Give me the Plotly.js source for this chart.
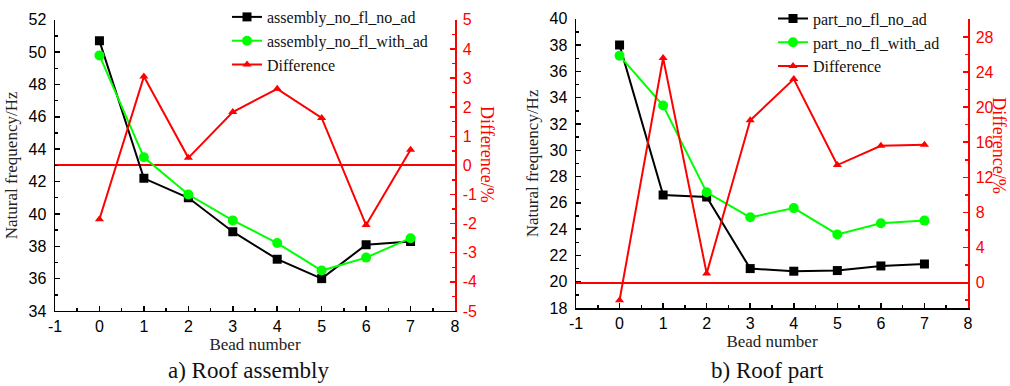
<!DOCTYPE html>
<html>
<head>
<meta charset="utf-8">
<script src="https://cdn.plot.ly/plotly-3.0.1.min.js"></script>
<style>
html,body{margin:0;padding:0;background:#fff;}
#chart{width:1010px;height:386px;}
</style>
</head>
<body>
<div id="chart"></div>
<script>
// ---- data ----
const beadNumber = [0, 1, 2, 3, 4, 5, 6, 7];

// a) Roof assembly
const assemblyNoFlNoAd   = [50.7, 42.2, 41.0, 38.9, 37.2, 36.0, 38.1, 38.3];
const assemblyNoFlWithAd = [49.8, 43.5, 41.2, 39.6, 38.2, 36.5, 37.3, 38.5];
const assemblyDifference = [-1.85, 3.05, 0.26, 1.83, 2.63, 1.63, -2.05, 0.54];

// b) Roof part
const partNoFlNoAd   = [38.0, 26.6, 26.45, 21.0, 20.8, 20.85, 21.2, 21.35];
const partNoFlWithAd = [37.2, 33.4, 26.8, 24.9, 25.6, 23.6, 24.45, 24.65];
const partDifference = [-2.0, 25.6, 1.05, 18.5, 23.2, 13.4, 15.6, 15.7];

// tick labels (hyphen minus as in the reference)
const xTickVals = [-1, 0, 1, 2, 3, 4, 5, 6, 7, 8];
const xTickText = ['-1', '0', '1', '2', '3', '4', '5', '6', '7', '8'];
const diffATickVals = [-5, -4, -3, -2, -1, 0, 1, 2, 3, 4, 5];
const diffATickText = ['-5', '-4', '-3', '-2', '-1', '0', '1', '2', '3', '4', '5'];

const seriesNames = {
  aBlack: 'assembly_no_fl_no_ad', aGreen: 'assembly_no_fl_with_ad',
  bBlack: 'part_no_fl_no_ad', bGreen: 'part_no_fl_with_ad', diff: 'Difference'
};

const SERIF = 'Liberation Serif, Times New Roman, serif';
const SANS = 'Liberation Sans, Arial, sans-serif';
const BLACK = '#000000', GREEN = '#00ff00', RED = '#ff0000';

function tr(x, y, name, color, symbol, size, xa, ya, legend) {
  return {
    x: x, y: y, name: name, type: 'scatter', mode: 'lines+markers',
    line: {color: color, width: 2},
    marker: {color: color, symbol: symbol, size: size},
    xaxis: xa, yaxis: ya, legend: legend
  };
}

const data = [
  tr(beadNumber, assemblyNoFlNoAd, seriesNames.aBlack, BLACK, 'square', 9, 'x', 'y', 'legend'),
  tr(beadNumber, assemblyNoFlWithAd, seriesNames.aGreen, GREEN, 'circle', 10, 'x', 'y', 'legend'),
  tr(beadNumber, assemblyDifference, seriesNames.diff, RED, 'triangle-up', 8, 'x', 'y2', 'legend'),
  tr(beadNumber, partNoFlNoAd, seriesNames.bBlack, BLACK, 'square', 9, 'x2', 'y3', 'legend2'),
  tr(beadNumber, partNoFlWithAd, seriesNames.bGreen, GREEN, 'circle', 10, 'x2', 'y3', 'legend2'),
  tr(beadNumber, partDifference, seriesNames.diff, RED, 'triangle-up', 8, 'x2', 'y4', 'legend2')
];

function xAxis(domain, anchor) {
  return {
    domain: domain, anchor: anchor, range: [-1, 8],
    tickmode: 'array', tickvals: xTickVals, ticktext: xTickText,
    showline: true, linecolor: BLACK, linewidth: 1.5, mirror: false,
    ticks: 'inside', ticklen: 5, tickwidth: 1.5, tickcolor: BLACK,
    minor: {ticks: 'inside', tickmode: 'linear', tick0: -1, dtick: 0.5, ticklen: 3, tickwidth: 1.5, tickcolor: BLACK, showgrid: false},
    showgrid: false, zeroline: false,
    tickfont: {family: SANS, size: 16, color: BLACK},
    title: {text: 'Bead number', font: {family: SERIF, size: 17, color: '#222'}, standoff: 1}
  };
}
function yLeft(domain, anchor, range, title) {
  return {
    domain: domain, anchor: anchor, range: range, dtick: 2,
    showline: true, linecolor: BLACK, linewidth: 1.5,
    ticks: 'inside', ticklen: 5, tickwidth: 1.5, tickcolor: BLACK,
    minor: {ticks: 'inside', dtick: 1, ticklen: 3, tickwidth: 1.5, tickcolor: BLACK, showgrid: false},
    showgrid: false, zeroline: false, ticklabelstandoff: 4,
    tickfont: {family: SANS, size: 16, color: BLACK},
    title: {text: title, font: {family: SERIF, size: 17, color: '#222'}, standoff: 6}
  };
}
function yRight(overlay, anchor, range, tickCfg, minorDtick) {
  return Object.assign({
    overlaying: overlay, anchor: anchor, side: 'right', range: range,
    showline: true, linecolor: RED, linewidth: 1.5,
    ticks: 'inside', ticklen: 5, tickwidth: 1.5, tickcolor: RED,
    minor: {ticks: 'inside', tickmode: 'linear', tick0: 0, dtick: minorDtick, ticklen: 3, tickwidth: 1.5, tickcolor: RED, showgrid: false},
    showgrid: false, zeroline: true, zerolinecolor: RED, zerolinewidth: 2,
    ticklabelstandoff: 3,
    tickfont: {family: SANS, size: 16, color: RED}
  }, tickCfg);
}

const legendBase = {
  bgcolor: 'rgba(0,0,0,0)', borderwidth: 0, xanchor: 'left', yanchor: 'top',
  font: {family: SERIF, size: 16, color: '#111'}, tracegroupgap: 0
};

const layout = {
  width: 1010, height: 386,
  margin: {l: 0, r: 0, t: 0, b: 0},
  paper_bgcolor: '#ffffff', plot_bgcolor: 'rgba(0,0,0,0)',
  showlegend: true,
  xaxis: xAxis([55/1010, 455/1010], 'y'),
  yaxis: yLeft([76/386, 371/386], 'x', [34, 52], 'Natural frequency/Hz'),
  yaxis2: yRight('y', 'x', [-5, 5], {tickmode: 'array', tickvals: diffATickVals, ticktext: diffATickText}, 0.5),
  xaxis2: xAxis([576/1010, 968/1010], 'y3'),
  yaxis3: yLeft([79/386, 372/386], 'x2', [18, 40], 'Natural frequency/Hz'),
  yaxis4: yRight('y3', 'x2', [-2.9, 30.07], {tick0: 0, dtick: 4}, 2),
  legend: Object.assign({}, legendBase, {x: 227/1010, y: 1.014}),
  legend2: Object.assign({}, legendBase, {x: 773/1010, y: 1.009}),
  annotations: [
    {text: 'Difference/%', xref: 'paper', yref: 'paper', x: 487/1010, y: (386-151)/386,
     xanchor: 'center', yanchor: 'middle',
     textangle: 90, showarrow: false, font: {family: SERIF, size: 18, color: RED}},
    {text: 'Difference/%', xref: 'paper', yref: 'paper', x: 999/1010, y: (386-142)/386,
     xanchor: 'center', yanchor: 'middle',
     textangle: 90, showarrow: false, font: {family: SERIF, size: 18, color: RED}},
    {text: 'a) Roof assembly', xref: 'paper', yref: 'paper', x: 248/1010, y: (386-370)/386,
     xanchor: 'center', yanchor: 'middle',
     showarrow: false, font: {family: SERIF, size: 23, color: '#111'}},
    {text: 'b) Roof part', xref: 'paper', yref: 'paper', x: 767/1010, y: (386-370)/386,
     xanchor: 'center', yanchor: 'middle',
     showarrow: false, font: {family: SERIF, size: 23, color: '#111'}}
  ]
};

Plotly.newPlot('chart', data, layout, {staticPlot: true, displayModeBar: false});
</script>
</body>
</html>
